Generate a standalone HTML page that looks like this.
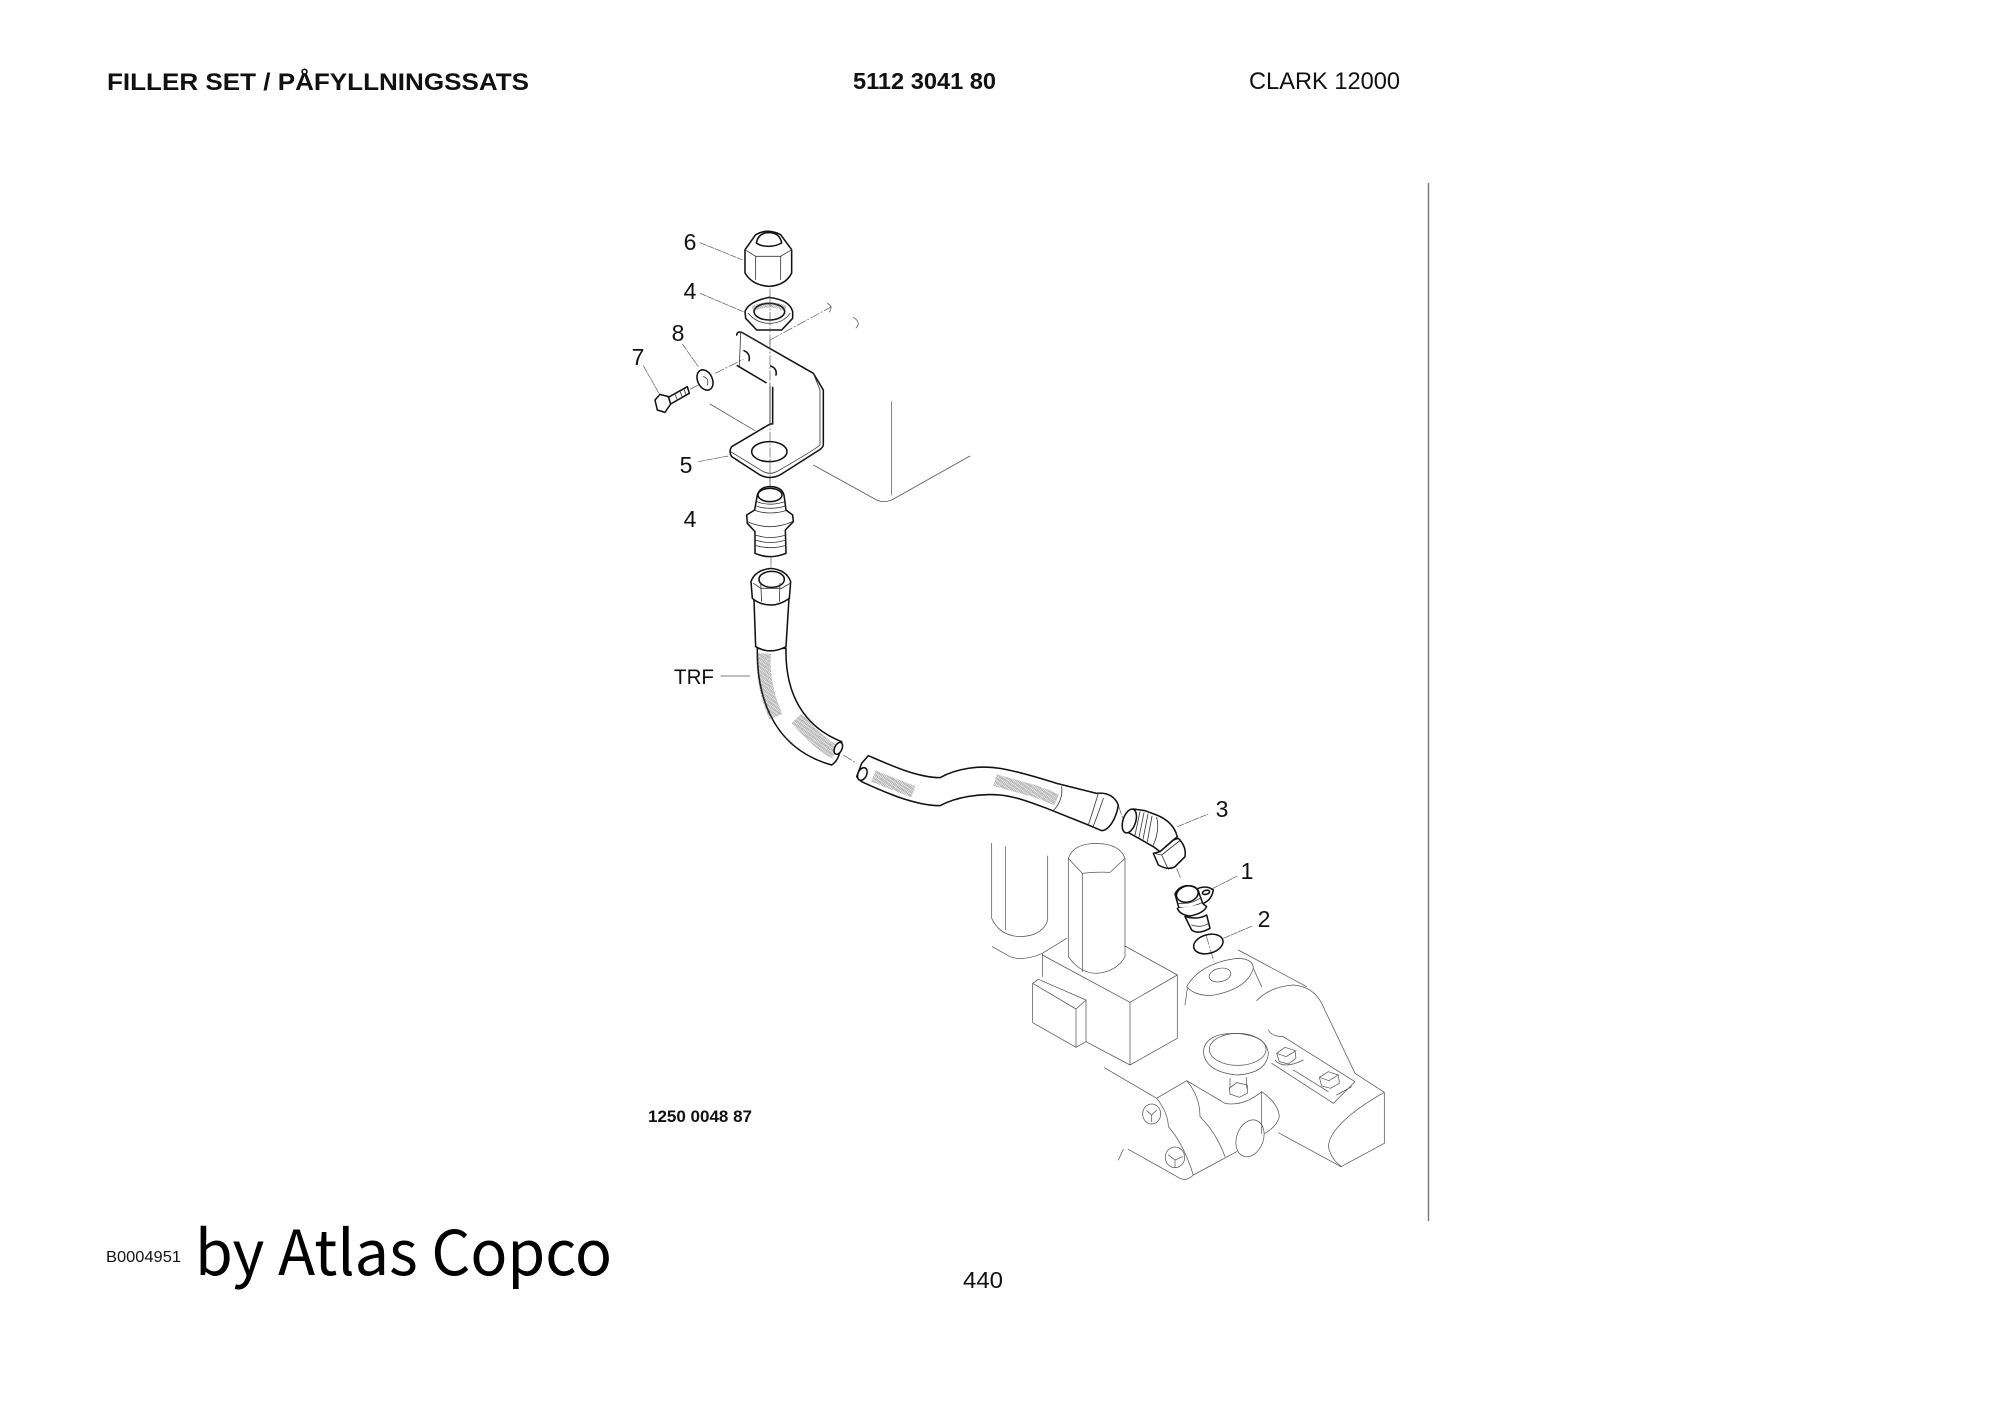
<!DOCTYPE html>
<html lang="en">
<head>
<meta charset="utf-8">
<title>Filler set</title>
<style>
html,body{margin:0;padding:0;background:#fff;width:2000px;height:1414px;overflow:hidden}
svg{display:block}
text{font-family:"Liberation Sans",sans-serif;fill:#111}
.b{fill:none;stroke:#111;stroke-width:4.6;stroke-linejoin:round;stroke-linecap:round}
.m{fill:none;stroke:#333;stroke-width:2.4;stroke-linecap:round}
.g{fill:none;stroke:#555;stroke-width:2.2;stroke-linecap:round;stroke-linejoin:round}
.l{fill:none;stroke:#555;stroke-width:2;stroke-dasharray:22 2}
.c{fill:none;stroke:#555;stroke-width:2;stroke-dasharray:30 5 6 5}
.w{fill:#fff}
</style>
</head>
<body>
<svg width="2000" height="1414" viewBox="0 0 2000 1414" xmlns="http://www.w3.org/2000/svg">
<defs>
<pattern id="h" width="14" height="10" patternUnits="userSpaceOnUse" patternTransform="rotate(35)">
<path d="M0 2H14M0 5H14M0 8H14" stroke="#444" stroke-width="1.4" stroke-dasharray="3 1.5"/>
</pattern>
</defs>
<rect width="2000" height="1414" fill="#fff"/>

<!-- Header -->
<text x="107" y="90" font-size="24.5" font-weight="700" textLength="422" lengthAdjust="spacingAndGlyphs">FILLER SET / PÅFYLLNINGSSATS</text>
<text x="853" y="89" font-size="23.5" font-weight="700" textLength="143" lengthAdjust="spacingAndGlyphs">5112 3041 80</text>
<text x="1249" y="89" font-size="24" textLength="151" lengthAdjust="spacingAndGlyphs">CLARK 12000</text>

<line x1="1428.5" y1="183" x2="1428.5" y2="1221" stroke="#777" stroke-width="1.4"/>

<!-- Footer -->
<text x="648" y="1122" font-size="17" font-weight="700" textLength="104" lengthAdjust="spacingAndGlyphs">1250 0048 87</text>
<text x="106" y="1262" font-size="16" textLength="75" lengthAdjust="spacingAndGlyphs">B0004951</text>
<text x="195" y="1275" font-size="62" textLength="417" lengthAdjust="spacingAndGlyphs" style="font-family:'Noto Sans CJK SC','Liberation Sans',sans-serif;fill:#000">by Atlas Copco</text>
<text x="963" y="1288" font-size="23" textLength="40" lengthAdjust="spacingAndGlyphs">440</text>

<!-- Callouts -->
<g font-size="23" text-anchor="middle">
<text x="690" y="250">6</text>
<text x="690" y="299">4</text>
<text x="678" y="341">8</text>
<text x="638" y="365">7</text>
<text x="686" y="473">5</text>
<text x="690" y="527">4</text>
<text x="1222" y="817">3</text>
<text x="1247" y="879">1</text>
<text x="1264" y="927">2</text>
</g>
<text x="674" y="684" font-size="21.5" textLength="40" lengthAdjust="spacingAndGlyphs">TRF</text>

<!-- Top assembly (zoom 1 coordinates) -->
<g transform="translate(600 200) scale(.33333)">
<path class="l" d="M300 128L428 180M300 280L430 335M247 432L295 500M130 497L178 582M295 785L385 768"/>
<path class="c" d="M510 265V900"/>
<path class="c" d="M510 420L695 320M345 520L430 478M270 568L295 555"/>
<path class="g" d="M682 310Q700 320 688 336M760 352Q785 368 768 384"/>
<!-- gray tank -->
<path class="g" d="M330 612L465 692M528 672L640 735M640 795L830 900Q850 910 875 900L1110 768M875 605V885"/>
<!-- bracket -->
<path class="b w" d="M410 405Q412 393 425 397L640 520L670 570V735Q668 745 650 755L540 825Q510 840 480 825L395 770Q385 755 395 740L510 672H518V562M498 548L412 497Z"/>
<path class="m" d="M422 400L418 497M660 570V735Q640 752 530 815Q510 825 490 815L392 755M640 520L660 570M425 397L515 450"/>
<path class="c" d="M510 420V900"/>
<ellipse class="b" cx="508" cy="755" rx="53" ry="30"/>
<path class="b" d="M432 452Q452 460 447 482M512 498Q532 505 528 525"/>
<path class="m" d="M510 560V670"/>
<!-- nut 6 -->
<g transform="translate(-3 -6)">
<path class="b w" d="M438 155L470 110Q505 90 545 110L578 155V225Q560 262 510 265Q460 262 438 225Z"/>
<path class="m" d="M470 175V245M545 175V245M438 155L470 175H545L578 155"/>
<path class="b" d="M472 135Q478 104 510 104Q542 104 548 135Q530 145 508 145Q485 145 472 135Z"/>
</g>
<!-- nut 4 top -->
<path class="b w" d="M435 335Q445 305 507 292Q570 300 578 335V355L545 390H470L437 355Z"/>
<ellipse class="b" cx="508" cy="335" rx="46" ry="25"/>
<path class="m" d="M445 340Q470 370 508 370Q550 370 570 340"/>
<path d="M455 318Q508 295 560 318L555 335Q508 310 460 335Z" fill="url(#h)"/>
<path class="c" d="M510 290V392"/>
<!-- bolt 7 -->
<path class="b w" d="M165 600L180 583L205 590L212 612L195 637L172 630Z"/>
<path class="b" d="M205 592L262 560L268 580L212 612"/>
<path class="m" d="M225 582L232 600M240 574L247 592M252 567L258 584"/>
<!-- washer 8 -->
<ellipse class="b w" cx="315" cy="540" rx="22" ry="32" transform="rotate(-25 315 540)"/>
<path class="m" d="M310 530Q328 535 322 555"/>
<!-- nipple 4 -->
<path class="b w" d="M472 885Q480 860 510 860Q545 860 552 885L558 930L578 945L580 965L556 990L558 1060Q510 1080 465 1060V995L442 970L440 945L464 930Z"/>
<ellipse class="b" cx="510" cy="885" rx="36" ry="20"/>
<path class="m" d="M470 905Q510 920 555 905M468 918Q510 932 557 918M466 932Q510 946 558 932M442 965Q510 995 578 965M466 1005Q510 1020 558 1005M466 1020Q510 1035 558 1020M466 1036Q510 1050 558 1036"/>
</g>

<!-- TRF hose (zoom 2 coordinates) -->
<g transform="translate(640 520) scale(.33333)">
<path class="l" d="M242 468H330" style="stroke-dasharray:none"/>
<path class="c" d="M393 110V175M610 705L650 730"/>
<path class="b w" d="M352 385C350 500 380 680 575 735Q600 720 605 665C490 620 435 520 438 385Z"/>
<path d="M372 400C365 500 400 570 408 590M470 595C510 640 550 680 585 695" fill="none" stroke="url(#h)" stroke-width="42"/>
<path class="b w" d="M342 240L347 380Q390 405 438 380L447 235"/>
<path class="b w" d="M333 185Q345 150 393 145Q440 150 452 185L448 235Q420 255 393 255Q360 255 337 235Z"/>
<ellipse class="b" cx="395" cy="178" rx="38" ry="24"/>
<path class="m" d="M362 190L365 245M420 190L418 245M340 190L362 205H425L450 190"/>
<ellipse class="b w" cx="595" cy="685" rx="11" ry="19" transform="rotate(25 595 685)"/>
</g>

<!-- Second hose and fittings (zoom 3 coordinates) -->
<g transform="translate(840 740) scale(.33333)">
<path class="l" d="M1012 260L1105 222M1115 447L1192 408M1150 595L1237 558"/>
<path class="c" d="M835 195L848 235M1010 385L1022 415M1030 445L1040 470M1098 585L1122 665"/>
<path class="b w" d="M85 47L65 70L50 110L65 125C120 150 220 197 300 197C350 170 420 160 480 165C530 170 580 190 620 205L745 255L785 272C810 270 830 230 835 195C820 160 790 158 770 160L650 130C600 115 540 95 480 85C420 75 350 85 300 113C230 112 150 75 85 47Z"/>
<path d="M100 108L220 155M465 120C530 140 590 150 650 180" fill="none" stroke="url(#h)" stroke-width="36"/>
<path class="m" d="M665 140Q670 180 640 212M775 160Q760 210 745 255M790 175Q775 220 760 258"/>
<ellipse class="b w" cx="67" cy="102" rx="13" ry="20" transform="rotate(25 67 102)"/>
<!-- elbow 3 -->
<path class="b w" d="M880 207L915 212L950 225Q1000 245 1012 290L1000 300L960 335L940 320L905 300L855 272Z"/>
<ellipse class="b w" cx="868" cy="243" rx="19" ry="37" transform="rotate(18 868 243)"/>
<path class="m" d="M900 215L885 285M912 218L897 292M924 222L909 298M936 228L922 305M950 232Q960 270 940 315"/>
<path class="b w" d="M940 340L955 375Q985 392 1005 380L1035 350Q1040 320 1015 295L1000 300L960 335Z"/>
<path class="m" d="M965 345L1022 300M965 345L985 388M965 345L942 340"/>
<!-- fitting 1 -->
<path class="b w" d="M1075 445Q1100 435 1120 450Q1115 480 1090 490"/>
<ellipse class="b" cx="1098" cy="457" rx="11" ry="6" transform="rotate(-15 1098 457)"/>
<path class="b w" d="M1005 462Q1015 440 1040 437Q1075 438 1078 462L1090 495Q1090 510 1055 525Q1025 525 1017 505Z"/>
<ellipse class="b" cx="1042" cy="462" rx="33" ry="24" transform="rotate(-15 1042 462)"/>
<path class="m" d="M1015 490Q1050 495 1083 473M1018 502Q1050 505 1088 487"/>
<path class="b w" d="M1012 505Q1020 525 1050 528Q1090 520 1100 500L1090 492"/>
<path class="b w" d="M1035 530L1055 570Q1075 585 1110 565L1100 525Q1075 540 1035 530Z"/>
<path class="m" d="M1055 555Q1085 565 1106 550"/>
<ellipse class="b" cx="1105" cy="612" rx="45" ry="28" transform="rotate(-15 1105 612)"/>
</g>

<!-- Gray background machine (zoom 4 coordinates) -->
<g transform="translate(960 840) scale(.33333)">
<path class="g" d="M95 10V235Q120 290 185 290Q250 285 263 240V48M136 20V270"/>
<path class="g" d="M97 320L150 350Q190 365 247 340L320 295"/>
<path class="g" d="M325 55Q340 10 410 10Q480 12 495 55V350Q470 395 410 400Q360 400 325 350ZM325 55L367 100Q410 95 450 97L495 55M367 100V395"/>
<path class="g" d="M247 340V410M247 345L510 487L652 405L495 318M652 405V595L510 675V487M510 675L378 605"/>
<path class="g" d="M218 430L235 418L378 480V605L348 622L218 548ZM218 430L348 507L378 480M348 507V622"/>
<path class="g" d="M680 440Q720 370 830 355Q880 355 880 385Q860 450 750 467Q700 465 680 440ZM682 445L675 495M880 385L905 440"/>
<ellipse class="g" cx="780" cy="405" rx="33" ry="20" transform="rotate(-12 780 405)"/>
<path class="g" d="M835 330L1040 440M890 482Q930 440 1000 435Q1060 440 1085 490L1185 700L1273 757V910L1143 980L955 878M1273 757Q1110 850 1105 920Q1115 960 1143 978M925 570Q935 590 970 590"/>
<path class="g" d="M970 590L1185 725L1120 790L935 670M1000 690L1105 755M1130 765L1175 740"/>
<path class="g" d="M950 640L975 622L1005 632L1008 655L985 672L958 665ZM950 640L978 650L1008 632M945 660Q970 690 1030 660"/>
<path class="g" d="M1078 712L1105 695L1135 705L1138 730L1112 745L1085 738ZM1078 712L1107 722L1135 705"/>
<path class="g" d="M730 635Q735 580 825 580Q920 585 925 640Q920 700 830 705Q735 695 730 635Z"/>
<ellipse class="g" cx="833" cy="628" rx="85" ry="48"/>
<path class="g" d="M810 715V745M860 712V745M808 745L830 728L862 735V760L838 772L810 762Z"/>
<path class="g" d="M433 683L590 775L680 722L795 790Q850 800 905 755V880M680 722Q720 770 720 830Q770 880 795 950M590 775Q625 820 625 860Q670 910 700 1005M505 928L660 1015Q680 1025 700 1005L830 935M905 755Q955 790 958 830Q950 860 915 880M490 928L475 960"/>
<ellipse class="g" cx="870" cy="895" rx="40" ry="57" transform="rotate(20 870 895)"/>
<ellipse class="g" cx="575" cy="822" rx="27" ry="30"/>
<path class="g" d="M560 812L575 825L590 810M575 825V845"/>
<ellipse class="g" cx="645" cy="952" rx="29" ry="31"/>
<path class="g" d="M625 945L645 960L668 950M645 960V982"/>
</g>
</svg>
</body>
</html>
